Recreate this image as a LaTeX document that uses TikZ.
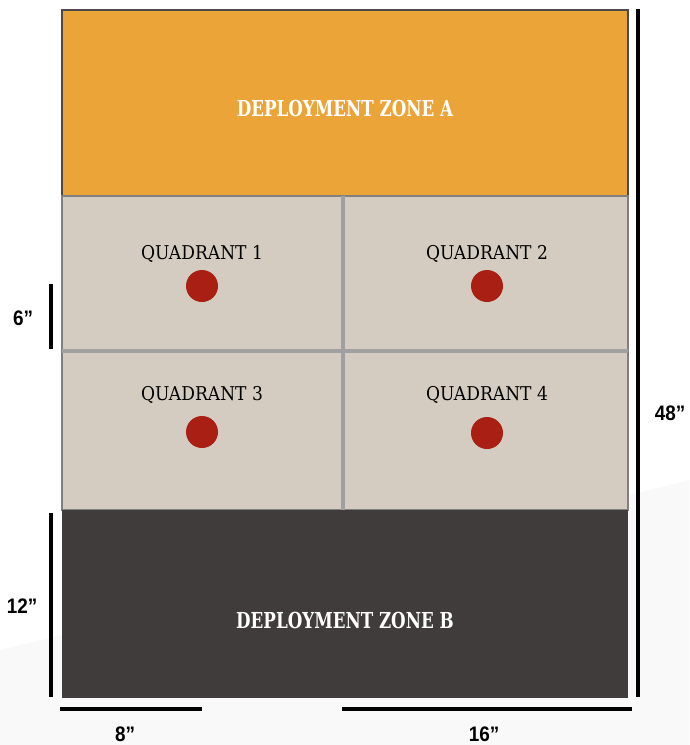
\documentclass[tikz,border=0pt]{standalone}
\usepackage{fontspec}
\usepackage{tikz}
\usetikzlibrary{positioning}
\newfontfamily\zonefont[FakeStretch=0.76]{DejaVu Serif Bold}
\newfontfamily\quadfont[FakeStretch=0.9]{DejaVu Serif}
\newfontfamily\dimfont[FakeStretch=0.9]{Liberation Sans Bold}
\definecolor{zoneorange}{HTML}{EBA438}
\definecolor{zonedark}{HTML}{403C3B}
\definecolor{fieldbeige}{HTML}{D4CCC0}
\definecolor{markerred}{HTML}{A91F13}
\definecolor{dividergray}{HTML}{A0A0A0}
\definecolor{boardedge}{HTML}{4A4A4A}
\tikzstyle{zone} = [rectangle, minimum width=566pt, outer sep=0pt, inner sep=0pt]
\tikzstyle{zonetext} = [text=white, font=\zonefont\fontsize{22}{22}\selectfont, text height=16pt, text depth=0pt, inner sep=0pt]
\tikzstyle{quad} = [text=black, font=\quadfont\fontsize{19}{19}\selectfont, text height=14pt, text depth=0pt, inner sep=0pt]
\tikzstyle{marker} = [circle, fill=markerred, minimum size=32pt, inner sep=0pt]
\tikzstyle{divider} = [draw=dividergray, line width=4pt]
\tikzstyle{dim} = [draw=black, line width=4pt]
\tikzstyle{dimlabel} = [font=\dimfont\fontsize{21}{21}\selectfont, text height=15pt, text depth=0pt, inner sep=0pt]

\begin{document}
\begin{tikzpicture}[x=1pt, y=-1pt]
    \useasboundingbox (0,0) rectangle (689,745);
    % faint backdrop
    \fill [black!2.5] (0,745) -- (0,650) -- (689,480) -- (689,745) -- cycle;

    % board
    \node [zone, fill=zoneorange, draw=boardedge, line width=2pt, minimum height=186pt] (zoneA) at (345,103) {};
    \node [zone, fill=fieldbeige, draw=boardedge!70, line width=2pt, minimum height=314pt, below=0pt of zoneA] (field) {};
    \node [zone, fill=zonedark, minimum height=188pt, below=0pt of field] (zoneB) {};

    \path [divider] ([xshift=-2pt]field.north) -- ([xshift=-2pt]field.south);
    \path [divider] ([yshift=2pt]field.west) -- ([yshift=2pt]field.east);

    \node [zonetext] (labelA) at ([yshift=-5pt]zoneA.center) {DEPLOYMENT ZONE A};
    \node [zonetext] (labelB) at ([yshift=-16pt]zoneB.center) {DEPLOYMENT ZONE B};

    % quadrants
    \node [quad] (quad1) at (202,252) {QUADRANT 1};
    \node [quad] (quad2) at (487,252) {QUADRANT 2};
    \node [quad] (quad3) at (202,393) {QUADRANT 3};
    \node [quad] (quad4) at (487,393) {QUADRANT 4};
    \node [marker] (obj1) at (202,286) {};
    \node [marker] (obj2) at (487,286) {};
    \node [marker] (obj3) at (202,432) {};
    \node [marker] (obj4) at (487,433) {};

    % dimensions
    \coordinate (r1) at (638,9);
    \coordinate (r2) at (638,697);
    \coordinate (s1) at (51,284);
    \coordinate (s2) at (51,349);
    \coordinate (t1) at (51,513);
    \coordinate (t2) at (51,697);
    \coordinate (e1) at (60,709);
    \coordinate (e2) at (202,709);
    \coordinate (x1) at (342,709);
    \coordinate (x2) at (632,709);
    \path [dim] (r1) -- (r2);
    \path [dim] (s1) -- (s2);
    \path [dim] (t1) -- (t2);
    \path [dim] (e1) -- (e2);
    \path [dim] (x1) -- (x2);

    \node [dimlabel] (len48) at (670,413) {48”};
    \node [dimlabel] (len6) at (23,318) {6”};
    \node [dimlabel] (len12) at (22,606) {12”};
    \node [dimlabel] (len8) at (125,734) {8”};
    \node [dimlabel] (len16) at (484,734) {16”};
\end{tikzpicture}
\end{document}
